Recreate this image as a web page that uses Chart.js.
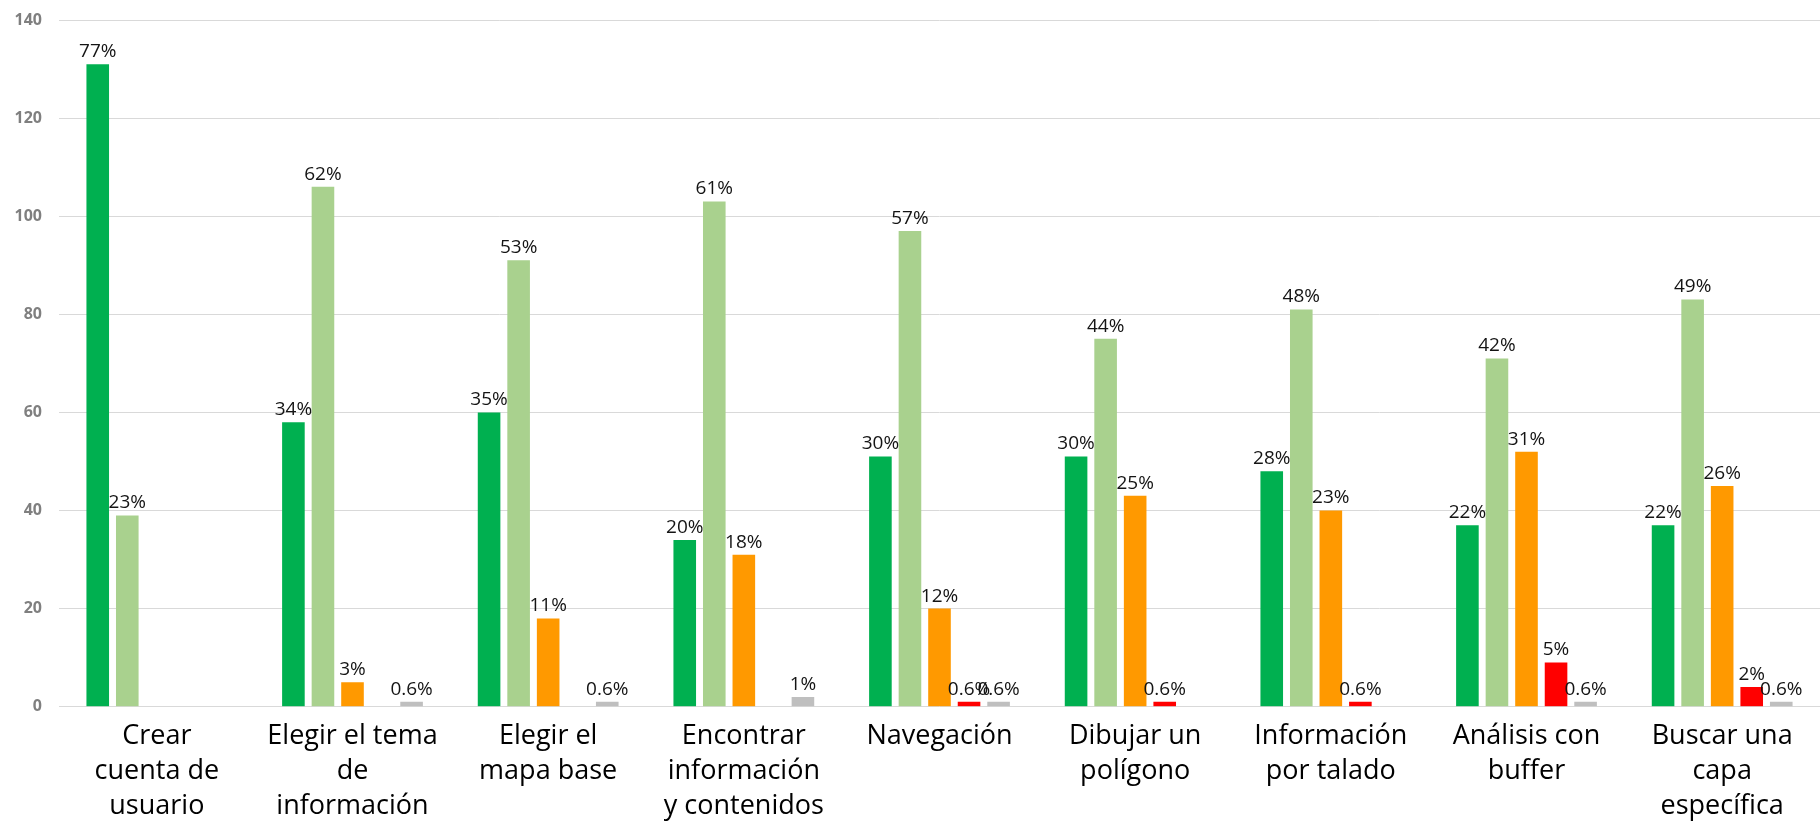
<!DOCTYPE html>
<html>
<head>
<meta charset="utf-8">
<script src="https://cdn.jsdelivr.net/npm/chart.js@4"></script>
<style>
  html, body { margin: 0; padding: 0; background: #ffffff; overflow: hidden; }
  #wrap { position: relative; width: 1820px; height: 836px; }
</style>
</head>
<body>
<div id="wrap"><canvas id="chartTareas"></canvas></div>
<script>
const categorias = [
  ['Crear', 'cuenta de', 'usuario'],
  ['Elegir el tema', 'de', 'información'],
  ['Elegir el', 'mapa base'],
  ['Encontrar', 'información', 'y contenidos'],
  ['Navegación'],
  ['Dibujar un', 'polígono'],
  ['Información', 'por talado'],
  ['Análisis con', 'buffer'],
  ['Buscar una', 'capa', 'específica']
];
const serie1 = [131, 58, 60, 34, 51, 51, 48, 37, 37];
const serie2 = [39, 106, 91, 103, 97, 75, 81, 71, 83];
const serie3 = [null, 5, 18, 31, 20, 43, 40, 52, 45];
const serie4 = [null, null, null, null, 1, 1, 1, 9, 4];
const serie5 = [null, 1, 1, 2, 1, null, null, 1, 1];
const pct1 = ['77%', '34%', '35%', '20%', '30%', '30%', '28%', '22%', '22%'];
const pct2 = ['23%', '62%', '53%', '61%', '57%', '44%', '48%', '42%', '49%'];
const pct3 = [null, '3%', '11%', '18%', '12%', '25%', '23%', '31%', '26%'];
const pct4 = [null, null, null, null, '0.6%', '0.6%', '0.6%', '5%', '2%'];
const pct5 = [null, '0.6%', '0.6%', '1%', '0.6%', null, null, '0.6%', '0.6%'];
const yTicks = [0, 20, 40, 60, 80, 100, 120, 140];

const colores = ['#00b050', '#a9d18e', '#ff9900', '#ff0000', '#bfbfbf'];
const series = [serie1, serie2, serie3, serie4, serie5];
const etiquetas = [pct1, pct2, pct3, pct4, pct5];

// etiquetas de porcentaje encima de cada barra
const pluginEtiquetas = {
  id: 'etiquetasPct',
  afterDatasetsDraw(chart) {
    const ctx = chart.ctx;
    ctx.save();
    ctx.font = '19px "Open Sans", sans-serif';
    ctx.fillStyle = '#141414';
    ctx.textAlign = 'center';
    ctx.textBaseline = 'bottom';
    chart.data.datasets.forEach((ds, i) => {
      const meta = chart.getDatasetMeta(i);
      meta.data.forEach((bar, j) => {
        const txt = etiquetas[i][j];
        if (txt == null || ds.data[j] == null) return;
        ctx.fillText(txt, bar.x, bar.y - 3);
      });
    });
    ctx.restore();
  }
};

new Chart(document.getElementById('chartTareas'), {
  type: 'bar',
  data: {
    labels: categorias,
    datasets: series.map((d, i) => ({
      label: 'Serie ' + (i + 1),
      data: d,
      backgroundColor: colores[i],
      borderWidth: 0,
      categoryPercentage: 0.755,
      barPercentage: 0.765
    }))
  },
  options: {
    responsive: true,
    maintainAspectRatio: false,
    animation: false,
    layout: { padding: { top: 20, right: 0, bottom: 0, left: 0 } },
    plugins: { legend: { display: false }, tooltip: { enabled: false } },
    scales: {
      x: {
        grid: { display: false, drawTicks: false },
        border: { display: false },
        ticks: { color: '#000000', font: { family: '"Open Sans", sans-serif', size: 27, lineHeight: 1.3 }, padding: 12, maxRotation: 0, autoSkip: false }
      },
      y: {
        min: 0, max: 140,
        afterFit(scale) { scale.width = 59; scale.paddingTop = 0; },
        afterBuildTicks(scale) { scale.ticks = yTicks.map(v => ({ value: v })); },
        grid: { color: '#d9d9d9', lineWidth: 1, drawTicks: false },
        border: { display: false },
        ticks: { color: '#7f7f7f', font: { family: '"Open Sans", sans-serif', size: 16, weight: 'bold', lineHeight: 1 }, padding: 17 }
      }
    }
  },
  plugins: [pluginEtiquetas]
});
</script>
</body>
</html>
